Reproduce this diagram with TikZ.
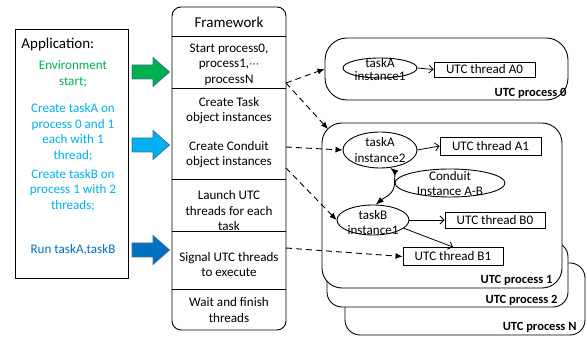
\documentclass[tikz,border=0pt]{standalone}
\usepackage{fontspec}
\setmainfont{Carlito}
\newfontfamily\symfont{DejaVu Sans}
\usetikzlibrary{arrows.meta,shapes.geometric}
\definecolor{ggreen}{HTML}{00B050}
\definecolor{lblue}{HTML}{00B0F0}
\definecolor{dblue}{HTML}{0070C0}
\definecolor{aedge}{HTML}{41719C}
\tikzset{
  txt/.style={font=\fontsize{13.1}{15.5}\selectfont, align=center, inner sep=0pt},
  ttl/.style={font=\fontsize{15}{18}\selectfont, inner sep=0pt},
  plabel/.style={font=\fontsize{12.5}{15}\selectfont\bfseries, inner sep=0pt, anchor=east},
  proc/.style={draw, fill=white, rounded corners=#1, inner sep=0pt},
  proc/.default=20pt,
  ell/.style={draw, ellipse, inner sep=0pt, fill=white},
  etxt/.style={font=\fontsize{13.1}{#1}\selectfont, align=center, inner sep=0pt},
  tbox/.style={draw, rectangle, inner sep=0pt, fill=white, font=\fontsize{13.1}{15}\selectfont},
  barrow/.style={draw=aedge, line width=0.8pt},
  dasharrow/.style={dash pattern=on 6pt off 4pt, -{Latex[length=7pt,width=6pt]}},
  thinarrow/.style={-{Straight Barb[length=4pt,width=8pt]}, line width=0.8pt},
  dblarrow/.style={{Latex[length=8pt,width=6pt]}-{Latex[length=8pt,width=6pt]}},
}
\begin{document}
\begin{tikzpicture}[x=1pt,y=1pt, line width=0.9pt]
\useasboundingbox (0,0) rectangle (587,337);
% Application box
\node[draw, minimum width=113pt, minimum height=249pt, inner sep=0pt] (app) at (71.5,183.5) {};
\node[ttl, anchor=west] (apptitle) at (21,292) {Application:};
\node[txt, text=ggreen] (env) at (73,263) {Environment\\start;};
\node[txt, text=lblue] (cta) at (73,204.5) {Create taskA on\\process 0 and 1\\each with 1\\thread;};
\node[txt, text=lblue] (ctb) at (73,147) {Create taskB on\\process 1 with 2\\threads;};
\node[txt, text=dblue] (run) at (73,87) {Run taskA,taskB};
% block arrows
\foreach \c/\yy in {ggreen/265, lblue/192, dblue/87}{
  \draw[barrow, fill=\c, shift={(0,\yy)}] (132,7) -- (153,7) -- (153,14.5) -- (169.5,0) -- (153,-14.5) -- (153,-7) -- (132,-7) -- cycle;
}
% Framework
\node[draw, rounded corners=9pt, minimum width=114pt, minimum height=323pt, inner sep=0pt] (fw) at (229,168.5) {};
\foreach \yy in {301,249,158,106,48}{
  \draw (172,\yy) -- (286,\yy);
}
\node[ttl] (fwt) at (229,315) {Framework};
\node[txt] (c1) at (229,272.5) {Start process0,\\process1,{\symfont\fontsize{10}{12}\selectfont ⋯}\\processN};
\node[txt] (c2a) at (229,226.5) {Create Task\\object instances};
\node[txt] (c2b) at (229,182.5) {Create Conduit\\object instances};
\node[txt] (c3) at (229,126) {Launch UTC\\threads for each\\task};
\node[txt] (c4) at (229,72.5) {Signal UTC threads\\to execute};
\node[txt] (c5) at (229,27) {Wait and finish\\threads};
\coordinate (s1) at (286,254);
\coordinate (s2) at (286,190);
\coordinate (s3) at (286,169);
\coordinate (s4) at (286,89);
% processes
\node[proc=15pt, minimum width=240pt, minimum height=72pt] (pN) at (465,38) {};
\node[plabel] (pNl) at (577,10) {UTC process N};
\node[proc=15pt, minimum width=241pt, minimum height=65pt] (p2) at (447.5,62.5) {};
\node[plabel] (p2l) at (558,37) {UTC process 2};
\node[proc=20pt, minimum width=240pt, minimum height=165pt] (p1) at (442,131.5) {};
\node[plabel] (p1l) at (553,57) {UTC process 1};
\node[proc=22pt, minimum width=243pt, minimum height=62pt] (p0) at (446.5,268) {};
\node[plabel] (p0l) at (567,244) {UTC process 0};
\coordinate (p1nw) at (328,208);
% process 0 content
\node[ell, minimum width=74pt, minimum height=20pt] (tA1) at (380,269) {};
\node[etxt=13] (tA1t) at (380,267.5) {taskA\\instance1};
\node[tbox, minimum width=101pt, minimum height=15pt] (A0) at (484.5,267.5) {UTC thread A0};
\draw[thinarrow] (tA1.east) -- (A0.west);
% process 1 content
\node[ell, minimum width=74pt, minimum height=36pt] (tA2) at (380,187) {};
\node[etxt=16] (tA2t) at (380,187) {taskA\\instance2};
\node[tbox, minimum width=101pt, minimum height=18pt] (A1) at (490.5,191) {UTC thread A1};
\node[ell, minimum width=110pt, minimum height=28pt] (cd) at (450,154) {};
\node[etxt=15] (cdt) at (450,153.5) {Conduit\\Instance A-B};
\node[ell, minimum width=72pt, minimum height=30pt] (tB) at (373,117) {};
\node[etxt=15] (tBt) at (373,114.5) {taskB\\instance1};
\node[tbox, minimum width=100pt, minimum height=16pt] (B0) at (495,117) {UTC thread B0};
\node[tbox, minimum width=100pt, minimum height=18pt] (B1) at (453,80.5) {UTC thread B1};
\draw[thinarrow] (tA2.east) -- (A1.west);
\draw[thinarrow] (tB.east) -- (B0.west);
\draw[thinarrow] (tB.-15) -- (B1.north);
\draw[dblarrow] (tA2.-60) to[out=-40,in=90] (cd.west) to[out=-90,in=40] (tB.80);
% dashed connectors
\draw[dasharrow] (s1) -- (p0.west);
\draw[dasharrow] (s1) -- (p1nw);
\draw[dasharrow] (s2) -- (tA2.west);
\draw[dasharrow] (s3) -- (tB.west);
\draw[dasharrow] (s4) -- (B1.west);
\end{tikzpicture}
\end{document}
